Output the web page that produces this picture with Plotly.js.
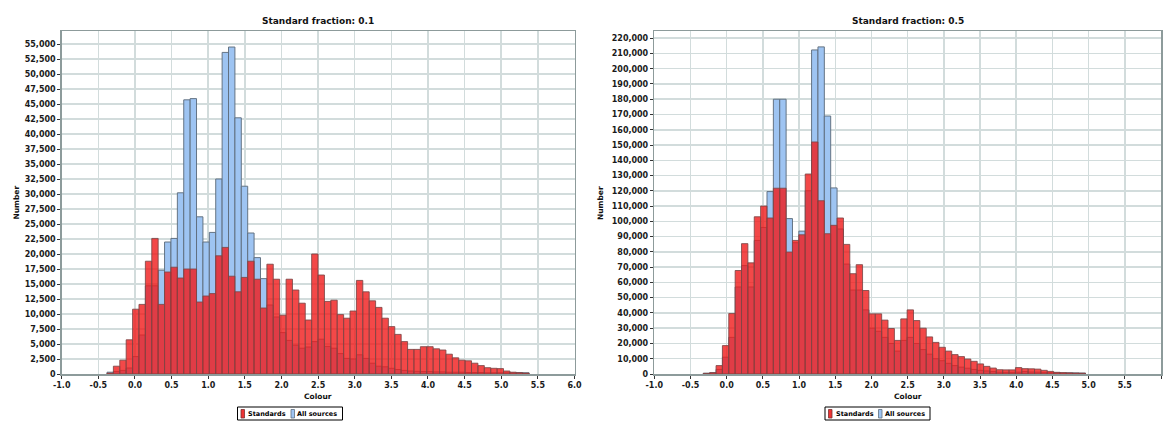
<!DOCTYPE html>
<html><head><meta charset="utf-8">
<script src="https://cdn.plot.ly/plotly-3.0.1.min.js"></script>
<style>html,body{margin:0;padding:0;background:#fff;overflow:hidden}#chart{width:1163px;height:421px}</style>
</head><body><div id="chart"></div>
<script>
// ---- Data (counts per colour bin) ----
// Panel 1: Standard fraction 0.1
const standards01 = [150,1300,2300,5700,10800,11600,18800,22600,11600,17000,17800,16000,17500,17500,12000,13000,13400,19700,21100,16300,13700,16100,18800,15800,11000,18300,15800,9800,15800,14000,11800,9000,20000,16500,12100,12300,9900,9300,10500,15600,13700,12200,11100,9300,7900,6600,5400,4100,4100,4550,4550,4200,4000,3300,2700,2300,2200,1800,1400,1050,950,900,500,300,200,150];
const allSources01 = [300,400,600,1000,2900,6500,14700,14700,17300,22000,22600,30200,45700,45900,26200,22000,23600,32500,53600,54500,42700,31300,23500,19400,15900,11500,9500,6900,5600,4800,4300,4500,5400,5800,4600,4300,3400,2600,2500,3200,2600,1800,1300,1200,950,750,600,500,450,400,400,350,350,300,300,300,250,250,250,200,200,200,200,200,250,200];
// Panel 2: Standard fraction 0.5
const standards05 = [400,900,5500,18600,39600,67800,85400,72800,103000,110000,102200,121700,121700,79900,87500,91200,131000,152000,113500,91900,97400,102200,84900,65700,71600,54700,39400,39400,35300,29800,22000,36100,42000,35000,30000,24300,20700,17500,15000,12700,11400,9800,8300,6600,5000,3900,2800,2700,2700,4200,3500,3400,3200,2400,1700,1100,900,700,600,500];
const allSources05 = [500,800,3000,11000,24000,57000,71000,57000,87500,96000,119500,180000,180000,101800,86000,93600,120000,212300,214300,169000,121900,95000,72000,55000,55000,42000,30000,28000,24000,20000,15000,22000,24000,20000,16000,13000,10000,8700,7000,5500,4500,3800,3000,2400,2000,1600,1200,1100,1100,1200,1600,1300,1200,1100,900,800,700,800,700,600];
// Histogram binning (first bin centre, bin width)
const bins01 = {start: -0.338, width: 0.0873};
const bins05 = {start: -0.279, width: 0.088};
// Tick labels
const xTickVals = [-1.0,-0.5,0.0,0.5,1.0,1.5,2.0,2.5,3.0,3.5,4.0,4.5,5.0,5.5,6.0];
const xTickText = ['-1.0','-0.5','0.0','0.5','1.0','1.5','2.0','2.5','3.0','3.5','4.0','4.5','5.0','5.5','6.0'];
const titles = ['Standard fraction: 0.1','Standard fraction: 0.5'];
const seriesNames = ['Standards','All sources'];

// ---- Styling ----
const W = 1163, H = 421;
const FONT = 'DejaVu Sans';
const BLUE = '#9ec4f2';
const RED = 'rgba(240,26,26,0.8)';
const RED_SOLID = '#ee3434';
const OUTLINE = 'rgba(95,110,125,0.95)';
const RED_OUTLINE = 'rgba(125,70,70,0.85)';
const GRID = '#d2dcdc';
const FRAME = '#8d9b9b';

function barTrace(vals, bins, name, color, line, xa, ya) {
  return {
    type: 'bar', x0: bins.start, dx: bins.width, y: vals, name: name,
    xaxis: xa, yaxis: ya, showlegend: false,
    marker: {color: color, line: {color: line, width: 1}},
    hoverinfo: 'skip'
  };
}

const data = [
  barTrace(allSources01, bins01, seriesNames[1], BLUE, OUTLINE, 'x', 'y'),
  barTrace(standards01, bins01, seriesNames[0], RED, RED_OUTLINE, 'x', 'y'),
  barTrace(allSources05, bins05, seriesNames[1], BLUE, OUTLINE, 'x2', 'y2'),
  barTrace(standards05, bins05, seriesNames[0], RED, RED_OUTLINE, 'x2', 'y2')
];

const tickFont = {family: FONT, size: 8, weight: 'bold', color: '#1a1a1a'};
function xAxis(domain, anchor) {
  return {domain: domain, anchor: anchor, range: [-1, 6], tickvals: xTickVals, ticktext: xTickText,
    showgrid: true, gridcolor: GRID, gridwidth: 1.5, zeroline: false,
    showline: true, mirror: true, linecolor: FRAME, linewidth: 1.5,
    ticks: 'outside', ticklen: 3, tickcolor: '#333', tickfont: tickFont, automargin: false, fixedrange: true};
}
function yAxis(domain, anchor, top, step) {
  return {domain: domain, anchor: anchor, range: [0, top], dtick: step, tick0: 0, tickformat: ',d',
    showgrid: true, gridcolor: GRID, gridwidth: 1.5, zeroline: false,
    showline: true, mirror: true, linecolor: FRAME, linewidth: 1.5,
    ticks: 'outside', ticklen: 3, tickcolor: '#333', tickfont: tickFont, automargin: false, fixedrange: true};
}
const px = v => v / W;          // x pixel -> paper
const py = v => 1 - v / H;      // y pixel -> paper
const yDom = [py(374), py(31)];
const x1Dom = [px(61.7), px(574.5)];
const x2Dom = [px(654.3), px(1161)];
const c1 = (x1Dom[0] + x1Dom[1]) / 2, c2 = (x2Dom[0] + x2Dom[1]) / 2;

const titleFont = {family: FONT, size: 9, weight: 'bold', color: '#111'};
const axTitleFont = {family: FONT, size: 7.5, weight: 'bold', color: '#111'};
const legFont = {family: FONT, size: 6.5, weight: 'bold', color: '#000'};
function ann(text, x, y, font, angle, xanchor) {
  return {text: text, x: x, y: y, xref: 'paper', yref: 'paper', showarrow: false,
    xanchor: xanchor || 'center', yanchor: 'middle', font: font, textangle: angle || 0};
}
function rect(x0, x1, y0, y1, fill, line, lw) {
  return {type: 'rect', xref: 'paper', yref: 'paper', x0: px(x0), x1: px(x1), y0: py(y1), y1: py(y0),
    fillcolor: fill, line: {color: line, width: lw}, layer: 'above'};
}
// Legend boxes (drawn as shapes + text); offsets in pixels
function legendParts(left) {
  return {
    shapes: [
      rect(left, left + 105, 407, 420, '#ffffff', '#000000', 1),
      rect(left + 3.5, left + 7, 409.5, 418, RED_SOLID, '#7a3030', 0.8),
      rect(left + 53.5, left + 57, 409.5, 418, BLUE, '#5f6e7d', 0.8)
    ],
    annotations: [
      ann(seriesNames[0], px(left + 8.5), py(413.8), legFont, 0, 'left'),
      ann(seriesNames[1], px(left + 57.5), py(413.8), legFont, 0, 'left')
    ]
  };
}
const leg1 = legendParts(237.5), leg2 = legendParts(825);

const layout = {
  width: W, height: H, margin: {l: 0, r: 0, t: 0, b: 0, autoexpand: false},
  paper_bgcolor: '#fff', plot_bgcolor: '#fff',
  barmode: 'overlay', bargap: 0, showlegend: false,
  xaxis: xAxis(x1Dom, 'y'), yaxis: yAxis(yDom, 'x', 57170, 2500),
  xaxis2: xAxis(x2Dom, 'y2'), yaxis2: yAxis(yDom, 'x2', 224700, 10000),
  shapes: leg1.shapes.concat(leg2.shapes),
  annotations: [
    ann(titles[0], c1, py(21), titleFont),
    ann(titles[1], c2, py(21), titleFont),
    ann('Colour', c1, py(396), axTitleFont),
    ann('Colour', c2, py(396), axTitleFont),
    ann('Number', px(15.5), py(203), axTitleFont, -90),
    ann('Number', px(600), py(203), axTitleFont, -90)
  ].concat(leg1.annotations, leg2.annotations)
};

Plotly.newPlot('chart', data, layout, {staticPlot: true, displayModeBar: false});
</script>
</body></html>
